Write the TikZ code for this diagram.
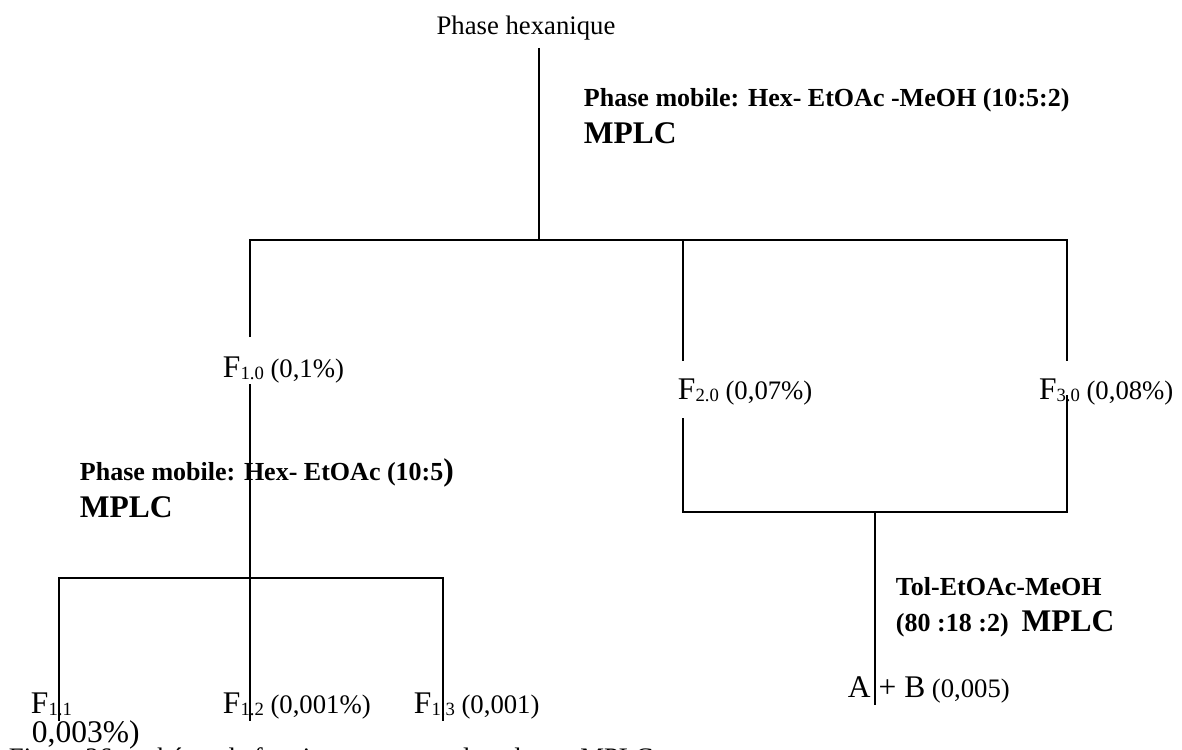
\documentclass[tikz,border=0pt]{standalone}
\usepackage{fontspec}
\setmainfont{Liberation Serif}
\usetikzlibrary{positioning}
\newcommand{\Bg}[1]{{\fontsize{22.4}{26}\selectfont #1}}
\newcommand{\fsub}[1]{\raisebox{-1.7pt}{\fontsize{13.3}{15}\selectfont #1}}

\begin{document}
\begin{tikzpicture}[x=0.025cm,y=-0.025cm,line width=1.4pt,
  lbl/.style={inner sep=0pt,anchor=base west,font=\fontsize{19}{22}\selectfont},
  solv/.style={inner sep=0pt,anchor=base west,font=\bfseries\fontsize{18.5}{22}\selectfont}]
\useasboundingbox (0,0) rectangle (1182,749);
\clip (0,0) rectangle (1182,749);
% fractions
\node[lbl,anchor=base] (n0) at (526,35) {Phase hexanique};
\node[lbl] (f10) at (222,377) {\Bg{F}\fsub{1.0} (0,1\%)};
\node[lbl] (f20) at (677,399) {\Bg{F}\fsub{2.0} (0,07\%)};
\node[lbl] (f30) at (1038,399) {\Bg{F}\fsub{3.0} (0,08\%)};
\node[lbl] (f11) at (30,713) {\Bg{F}\fsub{1.1}};
\node[lbl] (f11b) at (31,742) {\Bg{0,003\%)}};
\node[lbl] (f12) at (222,713) {\Bg{F}\fsub{1.2} (0,001\%)};
\node[lbl] (f13) at (413,713) {\Bg{F}\fsub{1.3} (0,001)};
\node[lbl] (ab) at (847,697) {\Bg{A + B} (0,005)};
% solvents
\node[solv] (p1) at (583,106) {Phase mobile: Hex- EtOAc -MeOH (10:5:2)};
\node[solv] (c1) at (583,143) {\Bg{MPLC}};
\node[solv] (p2) at (79,480) {Phase mobile: Hex- EtOAc (10:5\Bg{)}};
\node[solv] (c2) at (79,517) {\Bg{MPLC}};
\node[solv] (p3) at (895,595) {Tol-EtOAc-MeOH};
\node[solv] (p3b) at (895,631) {(80 :18 :2)\ \ \Bg{MPLC}};
\node[lbl] (cap) at (8,766) {Figure 36 : schéma de fractionnement par la colonne MPLC};
% junctions
\coordinate (s0) at (539,48);
\coordinate (j0) at (539,240);
\coordinate (j1) at (250,240);
\coordinate (j2) at (683,240);
\coordinate (j3) at (1067,240);
\coordinate (e1) at (250,337);
\coordinate (e2) at (683,361);
\coordinate (e3) at (1067,361);
\coordinate (s1) at (250,384);
\coordinate (k1) at (59,578);
\coordinate (k3) at (443,578);
\coordinate (b1) at (59,721);
\coordinate (b2) at (250,721);
\coordinate (b3) at (443,721);
\coordinate (s2) at (683,418);
\coordinate (s3) at (1067,395);
\coordinate (m2) at (683,512);
\coordinate (m3) at (1067,512);
\coordinate (m0) at (875,512);
\coordinate (b4) at (875,705);
% lines
\draw (s0) -- (j0);
\draw (e1) -- (j1) -- (j3) -- (e3);
\draw (j2) -- (e2);
\draw (s1) -- (b2);
\draw (b1) -- (k1) -- (k3) -- (b3);
\draw (s2) -- (m2) -- (m3) -- (s3);
\draw (m0) -- (b4);
\end{tikzpicture}
\end{document}
